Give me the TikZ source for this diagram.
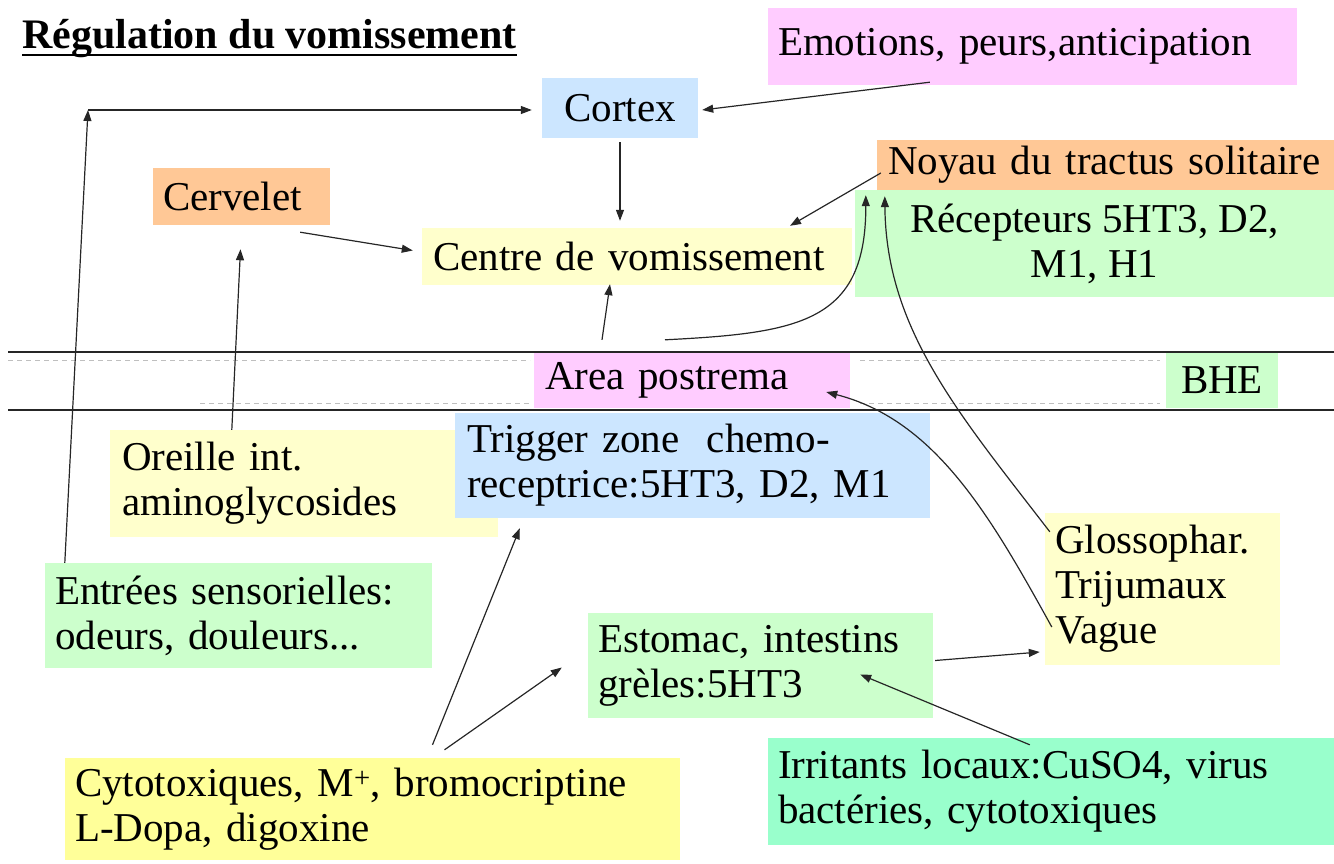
\documentclass[tikz,border=0pt]{standalone}
\usepackage{fontspec}
\setmainfont{Liberation Serif}
\usetikzlibrary{arrows.meta,calc}
\definecolor{pinkC}{HTML}{FFCCFF}
\definecolor{blueC}{HTML}{CCE6FF}
\definecolor{orangeC}{HTML}{FFC896}
\definecolor{lyelC}{HTML}{FFFFCC}
\definecolor{greenC}{HTML}{CCFFCC}
\definecolor{yelC}{HTML}{FFFF99}
\definecolor{aquaC}{HTML}{99FFCC}
\newcommand{\bigtxt}{\fontsize{41}{45}\selectfont}
\newcommand{\titletxt}{\fontsize{42}{45}\selectfont}
\tikzset{
  box/.style={rectangle, inner sep=0pt, font=\bigtxt, align=left},
  cbox/.style={rectangle, inner sep=0pt, font=\bigtxt, align=center},
  arr/.style={draw=black!85, line width=1.2pt, -{Triangle[length=11pt,width=8pt]}},
  barrier/.style={line width=2.4pt, black!85},
  faint/.style={black!25, line width=1pt, dash pattern=on 5pt off 4pt}
}
\begin{document}
\begin{tikzpicture}[x=1pt,y=-1pt]
\useasboundingbox (0,0) rectangle (1334,863);
% title
\node[anchor=base west, inner sep=0pt, font=\titletxt\bfseries] (title) at (22,48) {Régulation du vomissement};
\draw[line width=2.2pt] ($(title.base west)+(0,7)$) -- ($(title.base east)+(0,7)$);
% boxes
\node[box, fill=pinkC, minimum width=529, minimum height=77, text width=509] (emo) at (1032.5,46.5) {Emotions, peurs,anticipation};
\node[cbox, fill=blueC, minimum width=156, minimum height=60] (cortex) at (620,108) {Cortex};
\node[box, fill=orangeC, minimum width=177, minimum height=57, text width=157] (cerv) at (241.5,196.5) {Cervelet};
\node[box, fill=lyelC, minimum width=430, minimum height=57, text width=408] (centre) at (637,256.5) {Centre de vomissement};
\node[cbox, fill=greenC, minimum width=479, minimum height=107] (recep) at (1094.5,243.5) {Récepteurs 5HT3, D2,\\M1, H1};
\node[box, fill=orangeC, minimum width=457, minimum height=50, text width=435] (noyau) at (1105.5,165) {\mbox{Noyau du tractus solitaire}};
\node[box, fill=pinkC, minimum width=316, minimum height=56, text width=294] (area) at (692,380) {Area postrema};
\node[cbox, fill=greenC, minimum width=112, minimum height=56] (bhe) at (1222,380) {BHE};
\node[box, fill=lyelC, minimum width=388, minimum height=107, text width=364] (oreille) at (304,483.5) {Oreille int.\\aminoglycosides};
\node[box, fill=blueC, minimum width=475, minimum height=105, text width=451] (trig) at (692.5,465.5) {Trigger zone\ \ chemo-\\receptrice:5HT3, D2, M1};
\node[box, fill=greenC, minimum width=387, minimum height=105, text width=367] (entrees) at (238.5,615.5) {Entrées sensorielles:\\odeurs, douleurs...};
\node[box, fill=lyelC, minimum width=235, minimum height=152, text width=215] (gloss) at (1162.5,589) {Glossophar.\\Trijumaux\\Vague};
\node[box, fill=greenC, minimum width=345, minimum height=105, text width=325] (estomac) at (760.5,665.5) {Estomac, intestins\\grèles:5HT3};
\node[box, fill=yelC, minimum width=615, minimum height=102, text width=595] (cyto) at (372.5,809) {Cytotoxiques, M\textsuperscript{+}, bromocriptine\\L-Dopa, digoxine};
\node[box, fill=aquaC, minimum width=566, minimum height=107, text width=546] (irrit) at (1051,791.5) {Irritants locaux:CuSO4, virus\\bactéries, cytotoxiques};
% barrier lines
\draw[faint] (8,360) -- (530,360);
\draw[faint] (860,360) -- (1160,360);
\draw[faint] (200,403) -- (530,403);
\draw[faint] (860,403) -- (1160,403);
\draw[barrier] (8,352) -- (1334,352);
\draw[barrier] (8,410) -- (1334,410);
% connectors
\coordinate (corner) at (88,110);
\draw[arr] ($(entrees.north west)+(20,0)$) -- (corner);
\draw[arr] (corner) -- ($(cortex.west)+(-10,2)$);
\draw[arr] ($(emo.south west)+(162,-3)$) -- ($(cortex.east)+(4,2)$);
\draw[arr] ($(cortex.south)+(0,4)$) -- ($(cortex.south |- centre.north)+(0,-7)$);
\draw[arr] ($(cerv.south east)+(-30,7)$) -- ($(centre.west)+(-9,-6)$);
\draw[arr] ($(oreille.north west)+(122,0)$) -- ($(cerv.south)+(-1,24)$);
\draw[arr] ($(area.north)+(-90,-12)$) -- ($(centre.south)+(-27,-1)$);
\draw[arr] ($(area.north)+(-27,-12)$) .. controls (800,333) and (866,322) .. ($(noyau.south west)+(-11,5)$);
\draw[arr] ($(noyau.west)+(4,8)$) -- ($(centre.north)+(153,-2)$);
\draw[arr] ($(gloss.north west)+(5,19)$) .. controls (960,415) and (886,330) .. ($(noyau.south west)+(8,6)$);
\draw[arr] ($(gloss.west)+(7,38)$) .. controls (990,515) and (935,420) .. ($(area.east)+(-24,12)$);
\draw[arr] ($(estomac.east)+(2,-5)$) -- ($(gloss.west)+(-5,63)$);
\draw[arr] ($(irrit.north west)+(262,7)$) -- ($(estomac.east)+(-73,9)$);
\draw[arr] ($(cyto.north)+(60,-13)$) -- ($(trig.south west)+(65,10)$);
\draw[arr] ($(cyto.north)+(72,-8)$) -- ($(estomac.west)+(-26,2)$);
\end{tikzpicture}
\end{document}
